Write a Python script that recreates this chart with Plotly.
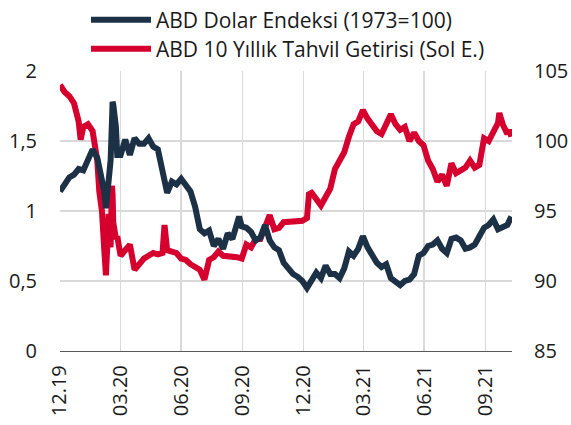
import plotly.graph_objects as go

# --- Data ---
yield_dates = [
    "2019-12-31", "2020-01-07", "2020-01-14", "2020-01-21", "2020-01-28", "2020-01-31",
    "2020-02-04", "2020-02-11", "2020-02-18", "2020-02-21", "2020-02-25", "2020-02-28",
    "2020-03-03", "2020-03-06", "2020-03-09", "2020-03-12", "2020-03-13", "2020-03-16",
    "2020-03-18", "2020-03-19", "2020-03-20", "2020-03-24", "2020-03-26", "2020-03-31",
    "2020-04-07", "2020-04-14", "2020-04-21", "2020-04-28", "2020-05-05", "2020-05-12",
    "2020-05-19", "2020-05-26", "2020-06-02", "2020-06-05", "2020-06-09", "2020-06-16",
    "2020-06-23", "2020-06-30", "2020-07-07", "2020-07-14", "2020-07-21", "2020-07-28",
    "2020-08-04", "2020-08-11", "2020-08-18", "2020-08-25", "2020-09-01", "2020-09-08",
    "2020-09-15", "2020-09-22", "2020-09-29", "2020-10-06", "2020-10-13", "2020-10-20",
    "2020-10-27", "2020-11-03", "2020-11-10", "2020-11-17", "2020-11-24", "2020-12-01",
    "2020-12-08", "2020-12-15", "2020-12-22", "2020-12-29", "2021-01-05", "2021-01-08",
    "2021-01-12", "2021-01-19", "2021-01-26", "2021-02-02", "2021-02-09", "2021-02-16",
    "2021-02-23", "2021-03-02", "2021-03-09", "2021-03-16", "2021-03-23", "2021-03-30",
    "2021-04-06", "2021-04-13", "2021-04-20", "2021-04-27", "2021-05-04", "2021-05-11",
    "2021-05-18", "2021-05-25", "2021-06-01", "2021-06-08", "2021-06-15", "2021-06-22",
    "2021-06-29", "2021-07-06", "2021-07-13", "2021-07-20", "2021-07-27", "2021-08-03",
    "2021-08-10", "2021-08-17", "2021-08-24", "2021-08-31", "2021-09-07", "2021-09-14",
    "2021-09-21", "2021-09-28", "2021-10-05", "2021-10-12", "2021-10-19", "2021-10-21",
    "2021-10-26", "2021-11-02", "2021-11-05", "2021-11-08",
]
yield_values = [
    1.90, 1.85, 1.82, 1.77, 1.64, 1.51,
    1.60, 1.62, 1.57, 1.50, 1.36, 1.14,
    1.00, 0.76, 0.54, 0.85, 0.98, 0.74,
    1.18, 1.12, 0.92, 0.80, 0.82, 0.68,
    0.72, 0.76, 0.58, 0.62, 0.66, 0.68,
    0.70, 0.69, 0.70, 0.90, 0.72, 0.71,
    0.70, 0.66, 0.65, 0.62, 0.60, 0.58,
    0.51, 0.65, 0.67, 0.71, 0.68, 0.68,
    0.67, 0.67, 0.66, 0.76, 0.74, 0.80,
    0.80, 0.88, 0.97, 0.87, 0.88, 0.92,
    0.92, 0.92, 0.93, 0.93, 0.95, 1.12,
    1.13, 1.09, 1.04, 1.10, 1.16, 1.30,
    1.36, 1.42, 1.53, 1.62, 1.64, 1.72,
    1.66, 1.62, 1.57, 1.55, 1.62, 1.69,
    1.62, 1.58, 1.60, 1.50, 1.56, 1.50,
    1.47, 1.36, 1.30, 1.21, 1.26, 1.18,
    1.34, 1.27, 1.29, 1.31, 1.36, 1.31,
    1.33, 1.52, 1.50, 1.57, 1.63, 1.70,
    1.62, 1.55, 1.58, 1.53,
]

dxy_dates = [
    "2019-12-31", "2020-01-07", "2020-01-14", "2020-01-21", "2020-01-28", "2020-02-04",
    "2020-02-11", "2020-02-18", "2020-02-25", "2020-03-03", "2020-03-06", "2020-03-09",
    "2020-03-12", "2020-03-16", "2020-03-18", "2020-03-19", "2020-03-20", "2020-03-24",
    "2020-03-26", "2020-03-31", "2020-04-07", "2020-04-14", "2020-04-21", "2020-04-28",
    "2020-05-05", "2020-05-12", "2020-05-19", "2020-05-26", "2020-06-02", "2020-06-05",
    "2020-06-09", "2020-06-16", "2020-06-23", "2020-06-30", "2020-07-07", "2020-07-14",
    "2020-07-21", "2020-07-28", "2020-08-04", "2020-08-11", "2020-08-18", "2020-08-25",
    "2020-09-01", "2020-09-08", "2020-09-15", "2020-09-22", "2020-09-25", "2020-09-29",
    "2020-10-06", "2020-10-13", "2020-10-20", "2020-10-27", "2020-11-03", "2020-11-10",
    "2020-11-17", "2020-11-24", "2020-12-01", "2020-12-08", "2020-12-15", "2020-12-22",
    "2020-12-29", "2021-01-05", "2021-01-12", "2021-01-19", "2021-01-26", "2021-02-02",
    "2021-02-09", "2021-02-16", "2021-02-23", "2021-03-02", "2021-03-09", "2021-03-16",
    "2021-03-23", "2021-03-30", "2021-04-06", "2021-04-13", "2021-04-20", "2021-04-27",
    "2021-05-04", "2021-05-11", "2021-05-18", "2021-05-25", "2021-06-01", "2021-06-08",
    "2021-06-15", "2021-06-22", "2021-06-29", "2021-07-06", "2021-07-13", "2021-07-20",
    "2021-07-27", "2021-08-03", "2021-08-10", "2021-08-17", "2021-08-24", "2021-08-31",
    "2021-09-07", "2021-09-14", "2021-09-21", "2021-09-28", "2021-10-05", "2021-10-12",
    "2021-10-19", "2021-10-26", "2021-11-02", "2021-11-08",
]
dxy_values = [
    96.4, 96.9, 97.4, 97.6, 98.0, 97.9,
    98.8, 99.4, 98.8, 97.4, 96.5, 95.2,
    96.8, 98.6, 101.3, 102.8, 102.6, 101.0,
    99.0, 99.0, 100.1, 99.0, 100.2, 99.8,
    99.8, 100.2, 99.6, 99.4, 97.7, 96.9,
    96.3, 97.1, 96.9, 97.3, 96.8, 96.4,
    95.3, 93.7, 93.4, 93.6, 92.5, 93.0,
    92.3, 93.4, 93.0, 94.0, 94.6, 93.9,
    93.8, 93.5, 92.9, 93.1, 94.0, 92.9,
    92.4, 92.2, 91.3, 90.9, 90.5, 90.3,
    90.0, 89.5, 90.1, 90.6, 90.2, 91.1,
    90.5, 90.5, 90.2, 90.9, 92.1, 91.8,
    92.3, 93.2, 92.4, 91.9, 91.3, 91.0,
    91.2, 90.2, 89.9, 89.7, 90.0, 90.1,
    90.5, 91.8, 92.0, 92.5, 92.6, 92.9,
    92.3, 92.0, 93.0, 93.1, 92.9, 92.3,
    92.4, 92.6, 93.2, 93.8, 94.0, 94.4,
    93.7, 93.8, 94.0, 94.6,
]

tick_dates = ["2019-12-31", "2020-03-31", "2020-06-30", "2020-09-30",
              "2020-12-31", "2021-03-31", "2021-06-30", "2021-09-30"]
tick_labels = ["12.19", "03.20", "06.20", "09.20", "12.20", "03.21", "06.21", "09.21"]
left_ticks = [0, 0.5, 1, 1.5, 2]
left_labels = ["0", "0,5", "1", "1,5", "2"]
right_ticks = [85, 90, 95, 100, 105]

NAVY = "#1d3146"
RED = "#d6002f"
FONT = "Open Sans"
TXT = "#1a1a1a"
TICK_SIZE = 20
LEG_SIZE = 21

fig = go.Figure()
fig.add_trace(go.Scatter(
    x=dxy_dates, y=dxy_values, name="ABD Dolar Endeksi (1973=100)",
    mode="lines", line=dict(color=NAVY, width=6), yaxis="y2", legend="legend",
))
fig.add_trace(go.Scatter(
    x=yield_dates, y=yield_values, name="ABD 10 Yıllık Tahvil Getirisi (Sol E.)",
    mode="lines", line=dict(color=RED, width=6), yaxis="y", legend="legend2",
))

leg_common = dict(
    xref="container", yref="container", xanchor="left", yanchor="middle",
    orientation="v", bgcolor="rgba(0,0,0,0)", itemwidth=60,
    font=dict(family=FONT, size=LEG_SIZE, color=TXT),
)

fig.update_layout(
    width=571, height=425,
    margin=dict(l=60, r=59, t=71, b=74, autoexpand=False),
    paper_bgcolor="white", plot_bgcolor="white",
    font=dict(family=FONT, size=TICK_SIZE, color=TXT),
    showlegend=True,
    legend=dict(x=86 / 571, y=1 - 20 / 425, **leg_common),
    legend2=dict(x=86 / 571, y=1 - 49 / 425, **leg_common),
    xaxis=dict(
        type="date",
        range=["2019-12-31", "2021-11-09"],
        tickmode="array", tickvals=tick_dates, ticktext=tick_labels,
        tickangle=-90, showgrid=True, gridcolor="#d9d9d9", gridwidth=1.5,
        showline=True, linecolor="#595959", linewidth=1.2,
        ticks="", ticklabelstandoff=5,
        tickfont=dict(family=FONT, size=TICK_SIZE, color=TXT),
        zeroline=False,
    ),
    yaxis=dict(
        range=[0, 2], tickmode="array", tickvals=left_ticks, ticktext=left_labels,
        showgrid=True, gridcolor="#d9d9d9", gridwidth=1.5,
        zeroline=False, showline=False, ticks="", ticklabelstandoff=22,
        tickfont=dict(family=FONT, size=TICK_SIZE, color=TXT),
    ),
    yaxis2=dict(
        range=[85, 105], tickmode="array", tickvals=right_ticks,
        overlaying="y", side="right", showgrid=False, zeroline=False,
        showline=False, ticks="", ticklabelstandoff=21,
        tickfont=dict(family=FONT, size=TICK_SIZE, color=TXT),
    ),
)

fig.write_html(
    "out.html",
    config={"displayModeBar": False, "staticPlot": True},
    post_script="document.body.style.margin='0';",
)
